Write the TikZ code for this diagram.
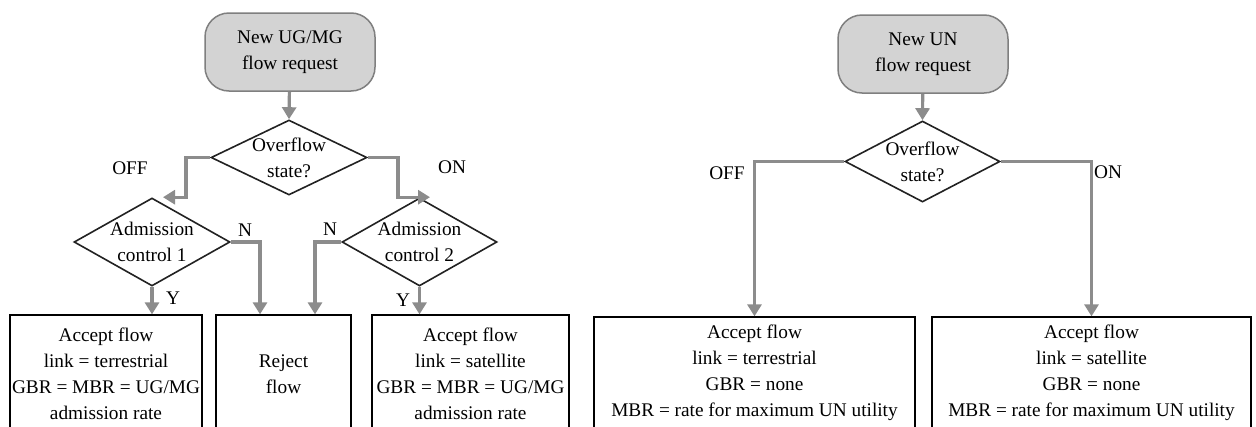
\documentclass[tikz,border=0pt]{standalone}
\usepackage{fontspec}
\setmainfont{Liberation Serif}
\usetikzlibrary{shapes.geometric,arrows.meta}
\definecolor{arrgray}{HTML}{8C8C8C}
\definecolor{termfill}{HTML}{D3D3D3}
\definecolor{termdraw}{HTML}{7F7F7F}
\definecolor{dline}{HTML}{222222}
\tikzset{
  txt/.style={font=\fontsize{19.3pt}{26pt}\selectfont, align=center},
  term/.style={txt, rectangle, rounded corners=24pt, fill=termfill, draw=termdraw, line width=1.5pt, minimum width=170pt, minimum height=78pt, inner sep=0pt},
  dec/.style={diamond, draw=dline, line width=1.6pt, inner sep=0pt, fill=white},
  box/.style={txt, rectangle, draw=black, line width=1.3pt, inner sep=0pt},
  arr/.style={draw=arrgray, line width=3.2pt, -{Triangle[width=14pt,length=12pt]}},
  lbl/.style={font=\fontsize{19.3pt}{24pt}\selectfont, inner sep=0pt}
}
\begin{document}
\begin{tikzpicture}[x=1pt,y=-1pt]
\useasboundingbox (0,0) rectangle (1256,426);
\clip (0,0) rectangle (1256,426);
\fill[white] (0,0) rectangle (1256,426);
% left chart
\node[term] (s1) at (290,52) {New UG/MG\\flow request};
\node[dec, minimum width=156pt, minimum height=75pt, label={[txt]center:Overflow\\state?}] (d1) at (289,157.5) {};
\node[dec, minimum width=156pt, minimum height=88pt, label={[txt]center:Admission\\control 1}] (d2) at (152,242) {};
\node[dec, minimum width=155pt, minimum height=88pt, label={[txt]center:Admission\\control 2}] (d3) at (419.5,242) {};
\node[box, minimum width=192pt, minimum height=118pt] (b1) at (106,374) {Accept flow\\link = terrestrial\\GBR = MBR = UG/MG\\admission rate};
\node[box, minimum width=135pt, minimum height=118pt] (b2) at (283.5,374) {Reject\\flow};
\node[box, minimum width=197pt, minimum height=118pt] (b3) at (470.5,374) {Accept flow\\link = satellite\\GBR = MBR = UG/MG\\admission rate};
\draw[arr] (s1) -- (d1.north);
\draw[arr] (d1.west) -| ([xshift=34pt]d2.north) -- ([xshift=11pt]d2.north);
\draw[arr] (d1.east) -| ([xshift=-21.5pt]d3.north) -- ([xshift=10.5pt]d3.north);
\draw[arr] (d2.south) -- (d2.south |- b1.north);
\draw[arr] (d2.east) -| ([xshift=-23.5pt]b2.north);
\draw[arr] (d3.west) -| ([xshift=31.5pt]b2.north);
\draw[arr] (d3.south) -- (d3.south |- b3.north);
\node[lbl] (off1) at (130,168) {OFF};
\node[lbl] (on1) at (452,167) {ON};
\node[lbl] (n1) at (245,230) {N};
\node[lbl] (y1) at (173,298) {Y};
\node[lbl] (n2) at (330,229) {N};
\node[lbl] (y2) at (403,300) {Y};
% right chart
\node[term] (s2) at (923,54) {New UN\\flow request};
\node[dec, minimum width=155pt, minimum height=81pt, label={[txt]center:Overflow\\state?}] (d4) at (922.5,161.5) {};
\node[box, minimum width=321pt, minimum height=112pt] (b4) at (754.5,373) {Accept flow\\link = terrestrial\\GBR = none\\MBR = rate for maximum UN utility};
\node[box, minimum width=319pt, minimum height=112pt] (b5) at (1091.5,373) {Accept flow\\link = satellite\\GBR = none\\MBR = rate for maximum UN utility};
\draw[arr] (s2) -- (d4.north);
\draw[arr] (d4.west) -| (b4.north);
\draw[arr] (d4.east) -| (b5.north);
\node[lbl] (off2) at (727,173) {OFF};
\node[lbl] (on2) at (1108,172) {ON};
\end{tikzpicture}
\end{document}
